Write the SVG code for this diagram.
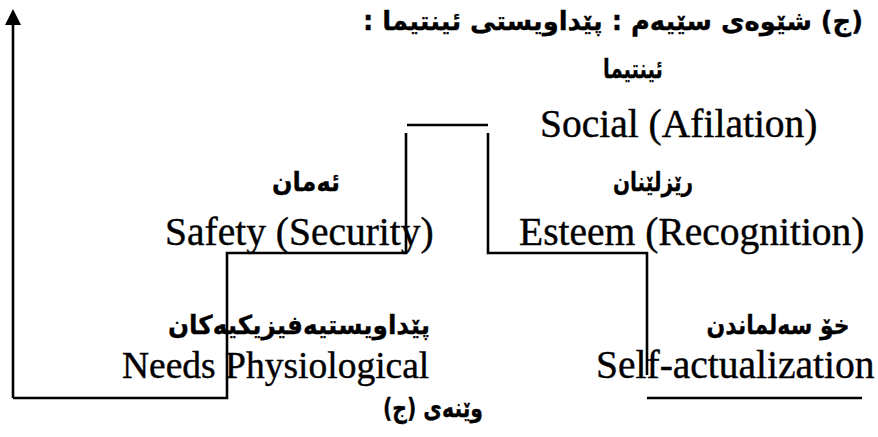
<svg xmlns="http://www.w3.org/2000/svg" width="878" height="437" viewBox="0 0 878 437">
<style>
.en{font-family:"Liberation Serif","Times New Roman",serif;font-size:39.5px;fill:#000;stroke:#000;stroke-width:0.4}
.ku{font-family:"DejaVu Sans",sans-serif;font-weight:bold;font-size:26px;fill:#000;stroke:#000;stroke-width:0.3;direction:rtl;text-anchor:middle}
.ln{stroke:#000;stroke-width:2.6;fill:none;stroke-linecap:butt}
</style>
<rect width="878" height="437" fill="#fff"/>
<g id="title">
<text class="ku" x="613" y="30" textLength="500" lengthAdjust="spacingAndGlyphs">(ج) شێوەی سێیەم : پێداویستی ئینتیما :</text>
</g>
<g id="connectors">
<path class="ln" d="M13,398 L13,25"/>
<path d="M5,25 L13,9 L21,25 Z" fill="#000"/>
<path class="ln" d="M13,398 L227,398 L227,253 L406,253 L406,133"/>
<path class="ln" d="M407,125 L488,125"/>
<path class="ln" d="M488,133 L488,253 L647,253 L647,375"/>
<path class="ln" d="M647,398 L862,398"/>
</g>
<g id="node-social">
<text class="ku" x="633" y="78" textLength="60" lengthAdjust="spacingAndGlyphs">ئینتیما</text>
<text class="en" x="540" y="137">Social (Afilation)</text>
</g>
<g id="node-safety">
<text class="ku" x="306" y="191" textLength="68" lengthAdjust="spacingAndGlyphs">ئەمان</text>
<text class="en" x="165" y="245">Safety (Security)</text>
</g>
<g id="node-esteem">
<text class="ku" x="653" y="191" textLength="80" lengthAdjust="spacingAndGlyphs">رێزلێنان</text>
<text class="en" x="519" y="245">Esteem (Recognition)</text>
</g>
<g id="node-needs">
<text class="ku" x="299" y="334" textLength="262" lengthAdjust="spacingAndGlyphs">پێداویستیەفیزیکیەکان</text>
<text class="en" x="122" y="378" style="font-size:37.5px">Needs Physiological</text>
</g>
<g id="node-self">
<text class="ku" x="778" y="334" textLength="143" lengthAdjust="spacingAndGlyphs">خۆ سەلماندن</text>
<text class="en" x="596" y="378">Self-actualization</text>
</g>
<g id="caption">
<text class="ku" x="433" y="417" textLength="100" lengthAdjust="spacingAndGlyphs">وێنەی (ج)</text>
</g>
</svg>
